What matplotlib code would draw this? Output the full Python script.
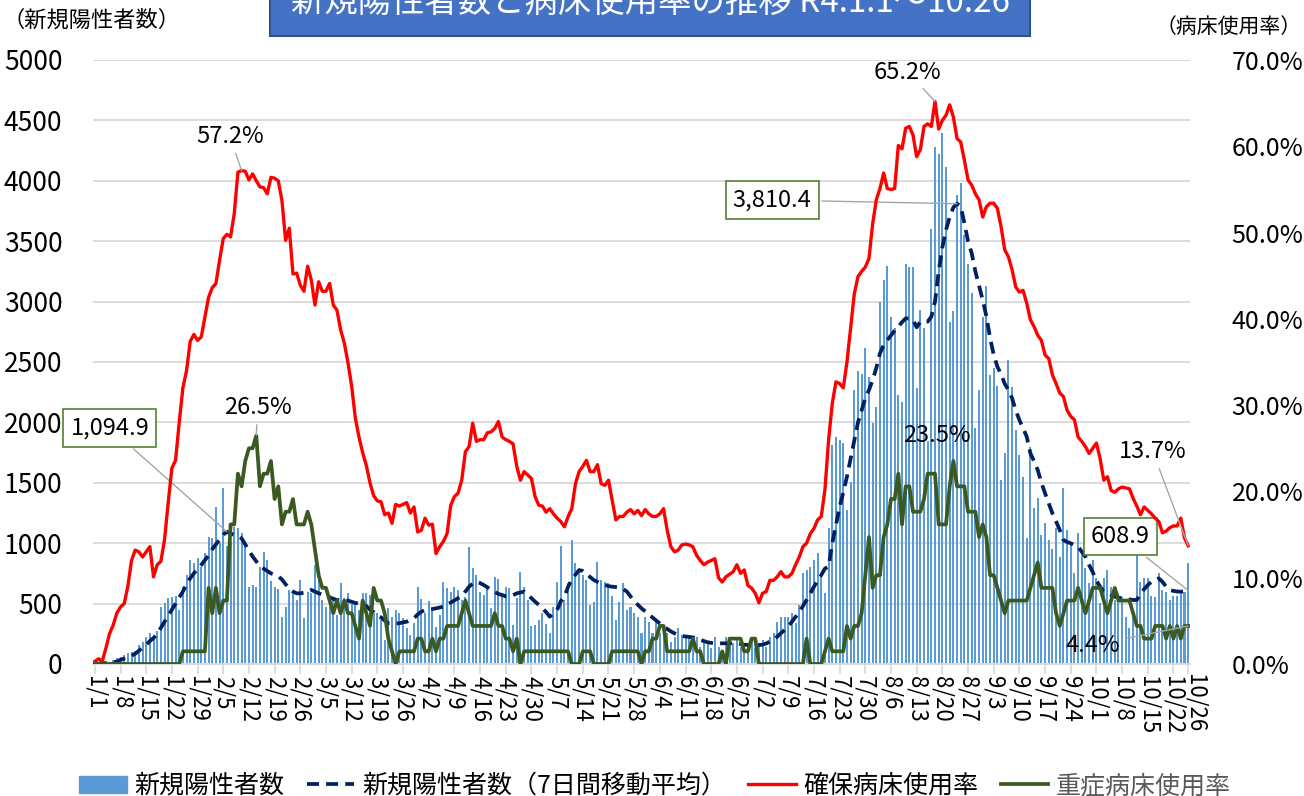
import matplotlib
matplotlib.use("Agg")
import matplotlib.pyplot as plt
import numpy as np
import pandas as pd
from matplotlib.patches import Rectangle, Patch
from matplotlib.lines import Line2D

plt.rcParams['font.family'] = ['Noto Sans CJK JP', 'DejaVu Sans']

# ---- data (R4.1.1 - 10.26, one value per day) ----
dates = pd.date_range('2022-01-01', '2022-10-26')

# new positive cases per day
cases = [
    3, 2, 5, 10, 18, 33, 47,
    61, 72, 90, 100, 110, 157, 185,
    226, 254, 215, 270, 475, 502, 543,
    557, 563, 450, 635, 737, 861, 833,
    875, 800, 916, 1054, 1040, 1302, 1000,
    1454, 975, 1013, 1137, 1123, 1082, 990,
    640, 655, 640, 806, 930, 861, 690,
    640, 625, 392, 475, 613, 585, 530,
    695, 378, 600, 585, 820, 725, 530,
    475, 475, 530, 405, 668, 545, 585,
    500, 515, 447, 585, 585, 571, 420,
    420, 364, 199, 461, 392, 447, 419,
    380, 300, 240, 337, 640, 535, 419,
    521, 447, 309, 405, 682, 626, 593,
    640, 613, 530, 557, 971, 797, 737,
    599, 571, 640, 461, 723, 701, 585,
    640, 626, 323, 544, 764, 640, 530,
    315, 323, 364, 419, 330, 254, 475,
    682, 977, 530, 668, 1026, 833, 778,
    737, 695, 490, 516, 847, 695, 682,
    668, 560, 364, 516, 668, 447, 475,
    419, 392, 254, 392, 350, 254, 364,
    254, 226, 254, 185, 226, 295, 240,
    212, 226, 199, 226, 143, 185, 171,
    130, 226, 143, 116, 226, 212, 171,
    212, 143, 102, 171, 199, 130, 171,
    199, 143, 226, 260, 350, 392, 386,
    392, 419, 342, 488, 756, 778, 806,
    861, 916, 750, 585, 1123, 1813, 1882,
    1854, 1827, 1275, 1509, 2268, 2428, 2400,
    2613, 2379, 1992, 2130, 3000, 3179, 3295,
    2875, 2779, 2227, 2172, 3311, 3289, 3289,
    2282, 2930, 2779, 1850, 3598, 4282, 4222,
    4398, 4117, 2834, 2925, 3882, 3979, 3551,
    3311, 3068, 1950, 2268, 2875, 3129, 2392,
    2450, 2300, 1523, 1744, 2517, 2296, 1937,
    1730, 1551, 1040, 1799, 1289, 1371, 1068,
    1164, 1026, 950, 1123, 888, 1454, 1109,
    1013, 750, 1082, 902, 792, 668, 861,
    709, 502, 709, 778, 640, 530, 585,
    557, 392, 295, 400, 958, 681, 709,
    709, 560, 557, 750, 612, 598, 530,
    560, 560, 598, 600, 836,
]

# 7-day moving average of new cases
cases_ma = [
    2, 3, 5, 8, 11, 15, 19,
    35, 45, 55, 68, 85, 110, 135,
    160, 190, 215, 250, 300, 350, 400,
    450, 500, 550, 600, 660, 710, 750,
    790, 820, 860, 900, 950, 990, 1030,
    1070, 1094.9, 1080, 1068, 1060, 1040, 990,
    940, 890, 850, 810, 790, 770, 750,
    740, 725, 700, 660, 626, 600, 585,
    585, 590, 600, 613, 600, 585, 575,
    560, 552, 540, 530, 530, 530, 525,
    515, 505, 500, 495, 480, 450, 430,
    400, 386, 360, 337, 337, 337, 337,
    345, 350, 365, 380, 410, 433, 447,
    450, 455, 461, 468, 475, 490, 508,
    525, 545, 560, 600, 640, 665, 682,
    670, 654, 635, 613, 595, 580, 571,
    560, 557, 570, 585, 592, 599, 571,
    545, 516, 490, 461, 430, 392, 420,
    447, 520, 557, 640, 700, 740, 778,
    770, 745, 720, 695, 680, 665, 655,
    645, 640, 637, 635, 620, 600, 560,
    520, 490, 461, 435, 410, 385, 360,
    335, 310, 290, 270, 254, 243, 232,
    228, 224, 220, 212, 200, 190, 180,
    175, 172, 171, 171, 171, 171, 171,
    170, 165, 160, 157, 157, 157, 157,
    160, 170, 185, 205, 226, 255, 281,
    310, 350, 390, 430, 480, 530, 585,
    640, 690, 737, 790, 806, 1000, 1150,
    1300, 1420, 1551, 1700, 1850, 2000, 2100,
    2200, 2268, 2351, 2450, 2572, 2640, 2682,
    2720, 2760, 2792, 2830, 2861, 2861, 2850,
    2787, 2834, 2834, 2834, 2875, 3000, 3250,
    3450, 3593, 3700, 3780, 3810.4, 3790, 3650,
    3500, 3400, 3250, 3130, 3013, 2880, 2700,
    2560, 2461, 2400, 2320, 2268, 2200, 2100,
    2020, 1950, 1882, 1744, 1680, 1606, 1500,
    1413, 1330, 1247, 1180, 1109, 1026, 1010,
    999, 985, 971, 930, 888, 820, 760,
    690, 640, 600, 585, 570, 557, 550,
    544, 540, 535, 530, 530, 585, 620,
    654, 680, 695, 709, 680, 640, 612,
    605, 600, 599, 600, 608.9,
]

# secured-bed occupancy (%)
bed_rate = [
    0.3, 0.6, 0.3, 1.8, 3.5, 4.5, 5.9,
    6.6, 7.0, 9.0, 12.0, 13.2, 13.0, 12.4,
    13.0, 13.6, 10.1, 11.5, 11.9, 14.4, 18.7,
    22.7, 23.6, 28.0, 32.0, 34.0, 37.4, 38.2,
    37.5, 37.9, 40.2, 42.5, 43.6, 44.1, 46.8,
    49.3, 49.8, 49.5, 52.2, 57.0, 57.2, 57.1,
    56.1, 56.8, 56.0, 55.3, 55.2, 54.5, 56.4,
    56.3, 56.0, 53.7, 49.1, 50.5, 45.2, 45.3,
    43.9, 43.2, 46.1, 44.5, 41.6, 44.3, 43.2,
    43.2, 44.1, 41.6, 41.0, 38.7, 37.2, 34.9,
    32.2, 28.5, 26.3, 24.5, 23.0, 21.0, 19.5,
    18.9, 18.8, 17.3, 17.5, 16.3, 18.5, 18.3,
    18.5, 18.7, 17.5, 18.2, 15.3, 15.5, 16.9,
    16.1, 16.2, 12.8, 13.6, 14.2, 15.1, 18.4,
    19.4, 19.8, 21.3, 24.6, 25.2, 27.9, 25.8,
    26.0, 26.0, 26.8, 26.9, 27.3, 28.1, 26.3,
    26.0, 25.8, 25.5, 22.9, 21.3, 22.3, 21.9,
    21.5, 19.4, 18.4, 18.3, 17.6, 18.0, 17.4,
    16.9, 16.5, 15.9, 17.1, 18.0, 20.9, 22.3,
    22.9, 23.6, 22.3, 22.3, 23.1, 20.9, 20.7,
    21.3, 19.0, 16.7, 17.1, 17.1, 17.6, 17.9,
    17.4, 17.8, 17.2, 17.9, 17.4, 17.1, 17.1,
    17.4, 18.0, 15.5, 13.6, 13.0, 13.2, 13.8,
    13.9, 13.8, 13.6, 12.6, 12.0, 11.5, 11.8,
    12.0, 12.2, 10.0, 9.5, 10.1, 10.4, 10.7,
    11.5, 10.5, 10.9, 9.1, 8.8, 8.2, 7.1,
    8.2, 8.4, 9.7, 9.7, 10.1, 10.7, 10.1,
    10.1, 10.5, 11.5, 12.4, 13.6, 14.0, 15.1,
    15.7, 16.7, 17.1, 20.2, 26.0, 30.2, 32.7,
    32.5, 32.0, 35.0, 39.0, 42.9, 44.9, 45.5,
    46.0, 47.0, 51.0, 53.8, 55.1, 56.9, 55.1,
    55.0, 55.1, 60.1, 59.7, 62.1, 62.3, 61.3,
    58.8, 59.6, 62.3, 62.6, 62.3, 65.2, 62.0,
    63.0, 63.6, 64.8, 63.4, 60.9, 60.5, 58.4,
    56.1, 55.5, 54.5, 53.8, 51.8, 53.0, 53.4,
    53.4, 52.8, 50.7, 48.0, 47.2, 45.7, 43.7,
    43.1, 43.3, 41.8, 39.9, 39.1, 38.1, 37.5,
    35.8, 35.4, 33.5, 32.5, 31.4, 31.0, 29.4,
    28.7, 28.3, 26.3, 25.8, 25.2, 24.4, 25.0,
    25.6, 23.8, 21.3, 21.7, 20.1, 19.9, 20.3,
    20.5, 20.4, 20.3, 19.2, 18.3, 17.3, 18.2,
    17.8, 17.4, 16.9, 16.5, 15.2, 15.4, 15.8,
    16.0, 16.0, 16.9, 14.6, 13.7,
]

# severe-case beds in use (out of 68 beds)
severe_total_beds = 68
severe_beds = [
    0, 0, 0, 0, 0, 0, 0,
    0, 0, 0, 0, 0, 0, 0,
    0, 0, 0, 0, 0, 0, 0,
    0, 0, 0, 1, 1, 1, 1,
    1, 1, 1, 6, 4, 6, 4,
    5, 5, 11, 11, 15, 14, 16,
    17, 17, 18, 14, 15, 15, 16,
    13, 14, 11, 12, 12, 13, 11,
    11, 11, 12, 11, 9, 7, 6,
    6, 5, 4, 5, 4, 5, 4,
    4, 3, 2, 5, 4, 3, 6,
    5, 5, 4, 2, 1, 0, 1,
    1, 1, 1, 1, 2, 2, 1,
    1, 2, 1, 2, 2, 3, 3,
    3, 3, 4, 5, 4, 3, 3,
    3, 3, 3, 3, 4, 3, 3,
    2, 2, 1, 2, 0, 1, 1,
    1, 1, 1, 1, 1, 1, 1,
    1, 1, 1, 1, 0, 0, 0,
    1, 1, 1, 0, 0, 0, 0,
    0, 1, 1, 1, 1, 1, 1,
    1, 1, 0, 1, 1, 2, 2,
    3, 3, 1, 1, 1, 1, 1,
    1, 1, 2, 1, 1, 0, 0,
    0, 0, 0, 1, 0, 2, 2,
    2, 2, 1, 1, 2, 2, 0,
    0, 0, 0, 0, 0, 0, 0,
    0, 0, 0, 0, 0, 2, 0,
    0, 0, 0, 1, 2, 1, 1,
    1, 1, 3, 2, 3, 3, 4,
    7, 10, 6, 7, 7, 10, 11,
    13, 13, 15, 11, 14, 14, 12,
    12, 12, 13, 15, 15, 15, 11,
    11, 11, 14, 16, 14, 14, 14,
    12, 12, 12, 10, 11, 10, 7,
    7, 6, 5, 4, 5, 5, 5,
    5, 5, 5, 6, 7, 8, 6,
    6, 6, 6, 4, 3, 4, 5,
    5, 5, 6, 5, 4, 5, 6,
    6, 6, 5, 4, 5, 6, 5,
    5, 5, 5, 4, 3, 3, 2,
    2, 2, 3, 3, 3, 2, 3,
    2, 3, 2, 3, 3,
]

tick_labels = ['1/1', '1/8', '1/15', '1/22', '1/29', '2/5', '2/12', '2/19', '2/26',
               '3/5', '3/12', '3/19', '3/26', '4/2', '4/9', '4/16', '4/23', '4/30',
               '5/7', '5/14', '5/21', '5/28', '6/4', '6/11', '6/18', '6/25', '7/2',
               '7/9', '7/16', '7/23', '7/30', '8/6', '8/13', '8/20', '8/27', '9/3',
               '9/10', '9/17', '9/24', '10/1', '10/8', '10/15', '10/22', '10/26']

days = np.arange(len(dates))
severe_rate = np.array(severe_beds) / severe_total_beds * 100
day_labels = [f'{d.month}/{d.day}' for d in dates]
tick_pos = [day_labels.index(t) for t in tick_labels]

# ---- figure ----
W, H = 1304, 796
fig = plt.figure(figsize=(W / 100, H / 100), dpi=100)
ax = fig.add_axes([93 / W, 1 - 664 / H, (1190 - 93) / W, 604 / H])
ax2 = ax.twinx()

c_bar = '#5B9BD5'
c_ma = '#002060'
c_red = '#FF0000'
c_green = '#3B5A22'
c_grid = '#D9D9D9'

ax.bar(days, cases, width=0.55, color=c_bar, zorder=2)
ax.plot(days, cases_ma, color=c_ma, lw=2.7, ls=(0, (3.2, 1.9)), zorder=3)
ax2.plot(days, bed_rate, color=c_red, lw=2.4, zorder=3)
ax2.plot(days, severe_rate, color=c_green, lw=2.7, zorder=3)

ax.set_xlim(-0.5, len(days) - 0.5)
ax.set_ylim(0, 5000)
ax2.set_ylim(0, 70)
ax.set_yticks(np.arange(0, 5001, 500))
ax2.set_yticks(np.arange(0, 71, 10))
ax2.set_yticklabels([f'{v:.1f}%' for v in np.arange(0, 71, 10)])
ax.set_xticks(tick_pos)
# the last date label is drawn separately, nudged right of 10/22
ax.set_xticklabels(tick_labels[:-1] + [''], rotation=-90, va='top', ha='center')
ax.annotate(tick_labels[-1], xy=(tick_pos[-1], 0), xycoords=('data', 'axes fraction'),
            xytext=(5, -7), textcoords='offset points', rotation=-90,
            ha='center', va='top', fontsize=16, annotation_clip=False)

ax.yaxis.grid(True, color=c_grid, lw=1.3)
ax.set_axisbelow(True)
for a in (ax, ax2):
    for s in ('top', 'left', 'right'):
        a.spines[s].set_visible(False)
    a.spines['bottom'].set_color(c_grid)
    a.spines['bottom'].set_linewidth(1.3)
ax.tick_params(axis='y', length=0, labelsize=19, pad=22)
ax2.tick_params(axis='y', length=0, labelsize=18, pad=30)
ax.tick_params(axis='x', length=7, color=c_grid, width=1.2, labelsize=16, pad=2)

# ---- annotations ----
lead = dict(arrowstyle='-', color='#A6A6A6', lw=1.0, shrinkA=2, shrinkB=0)
box = dict(boxstyle='square,pad=0.3', fc='white', ec='#548235', lw=1.2)

ax2.annotate('57.2%', xy=(40, 57.2), xytext=(36.8, 61.1), ha='center', va='center',
             fontsize=17, arrowprops=lead)
ax2.annotate('26.5%', xy=(44, 26.5), xytext=(44.4, 29.7), ha='center', va='center',
             fontsize=17, arrowprops=lead)
ax2.annotate('65.2%', xy=(229, 65.2), xytext=(221.6, 68.6), ha='center', va='center',
             fontsize=17, arrowprops=lead)
ax2.annotate('23.5%', xy=(234, 23.5), xytext=(229.5, 26.5), ha='center', va='center',
             fontsize=17)
ax2.annotate('13.7%', xy=(298, 13.7), xytext=(288.4, 24.6), ha='center', va='center',
             fontsize=17, arrowprops=lead)
ax2.annotate('4.4%', xy=(298, 4.4), xytext=(272.1, 2.2), ha='center', va='center',
             fontsize=17, arrowprops=lead)

ax.annotate('1,094.9', xy=(36, 1094.9), xytext=(4.1, 1954), ha='center', va='center',
            fontsize=17, bbox=box, arrowprops=lead, zorder=6)
ax.annotate('3,810.4', xy=(235, 3810.4), xytext=(184.6, 3841), ha='center', va='center',
            fontsize=17, bbox=box, arrowprops=lead, zorder=6)
ax.annotate('608.9', xy=(298, 608.9), xytext=(279.5, 1055), ha='center', va='center',
            fontsize=17, bbox=box, arrowprops=lead, zorder=6)

# ---- title box and axis captions ----
fig.patches.append(Rectangle((270 / W, 1 - 36 / H), 760 / W, 50 / H, transform=fig.transFigure,
                             fc='#4472C4', ec='#2F528F', lw=1.5))
fig.text(650 / W, 1 - 2 / H, '新規陽性者数と病床使用率の推移 R4.1.1～10.26', color='white',
         fontsize=24, ha='center', va='center')
fig.text(2 / W, 1 - 20 / H, '（新規陽性者数）', fontsize=16, ha='left', va='center')
fig.text(1 - 2 / W, 1 - 27 / H, '（病床使用率）', fontsize=15, ha='right', va='center')

# ---- legend ----
handles = [Patch(color=c_bar),
           Line2D([], [], color=c_ma, lw=2.7, ls=(0, (3.2, 1.9))),
           Line2D([], [], color=c_red, lw=2.4),
           Line2D([], [], color=c_green, lw=2.7)]
labels = ['新規陽性者数', '新規陽性者数（7日間移動平均）', '確保病床使用率', '重症病床使用率']
leg = fig.legend(handles, labels, loc='center', bbox_to_anchor=(655 / W, 1 - 786 / H), ncol=4,
                 frameon=False, fontsize=18, handlelength=1.9, handletextpad=0.3,
                 columnspacing=0.9)
leg.get_texts()[3].set_color('#595959')

fig.savefig('out.png', dpi=100)
